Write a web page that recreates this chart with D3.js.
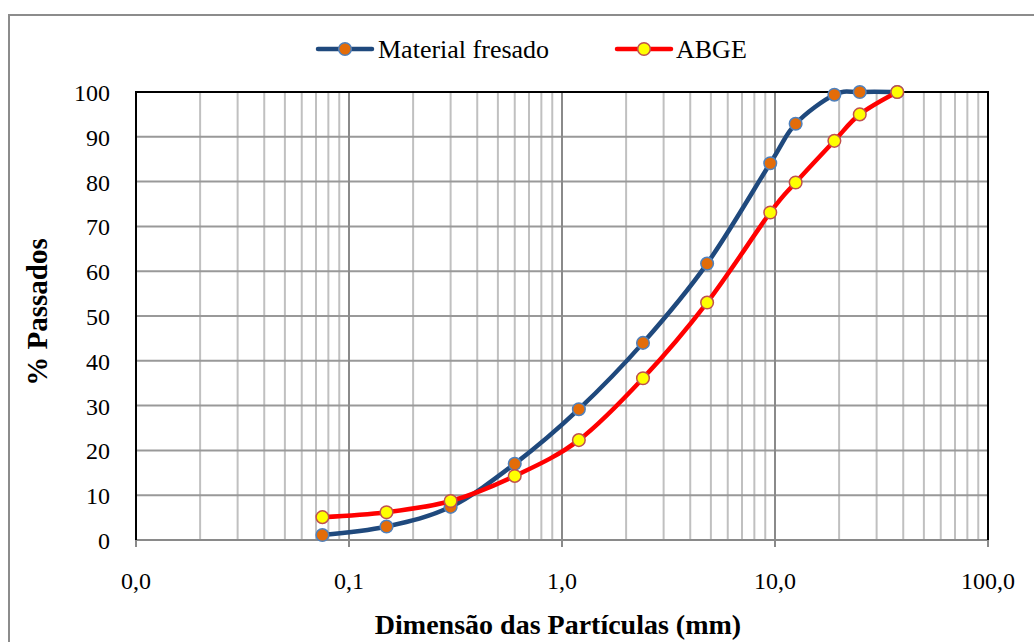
<!DOCTYPE html>
<html><head><meta charset="utf-8">
<script src="https://cdn.jsdelivr.net/npm/d3@7"></script>
<style>body{margin:0;background:#fff}svg{display:block}</style>
</head><body>
<svg id="c" width="1034" height="642"></svg>
<script>
const sieveSizes = [0.075, 0.15, 0.3, 0.6, 1.2, 2.4, 4.8, 9.5, 12.5, 19, 25, 37.5];
const materialFresado = [1.1, 3.0, 7.4, 17.0, 29.2, 44.0, 61.7, 84.1, 92.9, 99.4, 100, 100];
const abge = [5.1, 6.2, 8.7, 14.3, 22.3, 36.1, 53.0, 73.1, 79.8, 89.1, 95.0, 100];
const seriesNames = ["Material fresado", "ABGE"];
const xTickValues = [0.01, 0.1, 1, 10, 100];
const xTickLabels = ["0,0", "0,1", "1,0", "10,0", "100,0"];
const yTickValues = [0, 10, 20, 30, 40, 50, 60, 70, 80, 90, 100];
const xTitle = "Dimensão das Partículas (mm)";
const yTitle = "% Passados";

const svg = d3.select("#c");
const L = 136, R = 988, T = 92, B = 540;
const x = d3.scaleLog().domain([0.01, 100]).range([L, R]);
const y = d3.scaleLinear().domain([0, 100]).range([B, T]);
const font = "'Liberation Serif','Times New Roman',serif";

// outer chart border
svg.append("rect").attr("x", 9).attr("y", 15).attr("width", 1040).attr("height", 650)
  .attr("fill", "none").attr("stroke", "#8c8c8c").attr("stroke-width", 2);

// minor vertical gridlines
const minor = [];
for (let d = 0.01; d < 100; d *= 10) for (let k = 2; k <= 9; k++) minor.push(+(d * k).toPrecision(3));
svg.append("g").selectAll("line").data(minor).join("line")
  .attr("x1", d => x(d)).attr("x2", d => x(d)).attr("y1", T).attr("y2", B)
  .attr("stroke", "#c0c0c0").attr("stroke-width", 2);
// horizontal gridlines
svg.append("g").selectAll("line").data(yTickValues).join("line")
  .attr("x1", L).attr("x2", R).attr("y1", d => y(d)).attr("y2", d => y(d))
  .attr("stroke", "#999").attr("stroke-width", 2);
// major vertical gridlines
svg.append("g").selectAll("line").data(xTickValues).join("line")
  .attr("x1", d => x(d)).attr("x2", d => x(d)).attr("y1", T).attr("y2", B + 7)
  .attr("stroke", "#8a8a8a").attr("stroke-width", 2);

// bottom axis (gray)
svg.append("line").attr("x1", L).attr("x2", R).attr("y1", B).attr("y2", B)
  .attr("stroke", "#8a8a8a").attr("stroke-width", 2);
// plot border top/left/right black
svg.append("path").attr("d", `M${L},${B}V${T}H${R}V${B}`).attr("fill", "none")
  .attr("stroke", "#000").attr("stroke-width", 2);

// tick labels
svg.append("g").selectAll("text").data(xTickValues).join("text")
  .attr("x", d => x(d)).attr("y", 589).attr("text-anchor", "middle")
  .attr("font-family", font).attr("font-size", 24).text((d, i) => xTickLabels[i]);
svg.append("g").selectAll("text").data(yTickValues).join("text")
  .attr("x", 110).attr("y", d => y(d) + 9).attr("text-anchor", "end")
  .attr("font-family", font).attr("font-size", 24).text(d => d);

// titles
svg.append("text").attr("x", 558).attr("y", 634).attr("text-anchor", "middle")
  .attr("font-family", font).attr("font-size", 28).attr("font-weight", "bold").text(xTitle);
svg.append("text").attr("transform", "translate(47,312) rotate(-90)").attr("text-anchor", "middle")
  .attr("font-family", font).attr("font-size", 29).attr("font-weight", "bold").text(yTitle);

const styles = [
  {line: "#1F497D", fill: "#E36C09", stroke: "#4F81BD", data: materialFresado},
  {line: "#FF0000", fill: "#FFFF00", stroke: "#C0504D", data: abge}
];
const lineGen = d3.line().curve(d3.curveCatmullRom.alpha(0)).x(d => x(d[0])).y(d => y(d[1]));
styles.forEach(s => {
  const pts = sieveSizes.map((v, i) => [v, s.data[i]]);
  svg.append("path").attr("d", lineGen(pts)).attr("fill", "none")
    .attr("stroke", s.line).attr("stroke-width", 4.5).attr("stroke-linejoin", "round");
  svg.append("g").selectAll("circle").data(pts).join("circle")
    .attr("cx", d => x(d[0])).attr("cy", d => y(d[1])).attr("r", 6.3)
    .attr("fill", s.fill).attr("stroke", s.stroke).attr("stroke-width", 1.5);
});

// legend
const legX = [318, 617], legTextX = [378, 676], legY = 49;
styles.forEach((s, i) => {
  const g = svg.append("g");
  g.append("line").attr("x1", legX[i]).attr("x2", legX[i] + 54).attr("y1", legY).attr("y2", legY)
    .attr("stroke", s.line).attr("stroke-width", 4.5).attr("stroke-linecap", "round");
  g.append("circle").attr("cx", legX[i] + 27).attr("cy", legY).attr("r", 6.3)
    .attr("fill", s.fill).attr("stroke", s.stroke).attr("stroke-width", 1.5);
  g.append("text").attr("x", legTextX[i]).attr("y", 58).attr("font-family", font)
    .attr("font-size", 26).text(seriesNames[i]);
});
</script>
</body></html>
